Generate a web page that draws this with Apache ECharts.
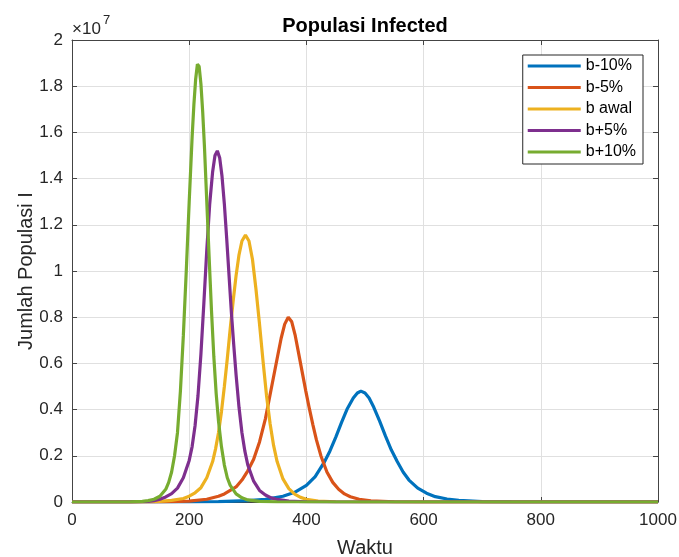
<!DOCTYPE html>
<html>
<head>
<meta charset="utf-8">
<script src="https://cdn.jsdelivr.net/npm/echarts@6/dist/echarts.min.js"></script>
<style>
html,body{margin:0;padding:0;background:#ffffff;}
#chart{width:679px;height:557px;}
</style>
</head>
<body>
<div id="chart"></div>
<script>
// ---- Data (time, value in millions) ----
const seriesNames = ['b-10%', 'b-5%', 'b awal', 'b+5%', 'b+10%'];
const xTickValues = [0, 200, 400, 600, 800, 1000];
const yTickLabels = ['0', '0.2', '0.4', '0.6', '0.8', '1', '1.2', '1.4', '1.6', '1.8', '2'];

const bMinus10 = [[0,0],[200,0.005],[250,0.02],[300,0.06],[330,0.12],[360,0.25],[380,0.42],[400,0.72],[415,1.1],[430,1.7],[440,2.2],[450,2.8],[460,3.45],[470,4.05],[480,4.5],[487,4.72],[493,4.8],[500,4.72],[507,4.5],[515,4.1],[525,3.5],[535,2.85],[545,2.25],[555,1.75],[565,1.3],[575,0.95],[590,0.6],[605,0.38],[620,0.23],[640,0.13],[660,0.07],[700,0.02],[750,0.005],[800,0.001],[1000,0]];

const bMinus5 = [[0,0],[150,0.005],[200,0.04],[230,0.12],[250,0.25],[260,0.35],[270,0.5],[280,0.65],[290,0.95],[300,1.35],[310,1.85],[320,2.6],[330,3.6],[340,4.9],[350,6.2],[357,7.1],[363,7.7],[369,8.0],[375,7.8],[381,7.2],[387,6.4],[393,5.6],[399,4.8],[405,4.05],[411,3.35],[417,2.7],[425,1.98],[435,1.3],[445,0.85],[455,0.55],[465,0.35],[475,0.23],[490,0.12],[510,0.05],[550,0.01],[600,0.001],[1000,0]];

const bAwal = [[0,0],[100,0.005],[150,0.03],[170,0.07],[190,0.15],[200,0.25],[210,0.4],[220,0.62],[230,1.05],[240,1.75],[245,2.3],[250,3.0],[255,3.9],[260,5.0],[265,6.2],[270,7.5],[275,8.7],[280,9.8],[285,10.7],[290,11.3],[296,11.56],[302,11.3],[308,10.5],[314,9.2],[320,7.7],[326,6.1],[332,4.6],[338,3.4],[344,2.45],[350,1.75],[360,1.0],[370,0.58],[380,0.34],[390,0.2],[400,0.12],[420,0.04],[450,0.01],[500,0.001],[1000,0]];

const bPlus5 = [[0,0],[100,0.005],[130,0.03],[140,0.06],[150,0.12],[160,0.22],[170,0.36],[180,0.6],[190,1.05],[200,1.8],[205,2.4],[210,3.3],[215,4.6],[220,6.4],[225,8.6],[230,10.9],[235,12.9],[240,14.3],[244,15.0],[248,15.2],[252,14.9],[256,14.1],[260,12.9],[264,11.4],[268,9.8],[272,8.2],[276,6.8],[280,5.5],[285,4.1],[290,3.0],[295,2.2],[300,1.6],[310,0.9],[320,0.5],[330,0.3],[340,0.18],[350,0.11],[370,0.04],[400,0.01],[450,0.001],[1000,0]];

const bPlus10 = [[0,0],[100,0.005],[120,0.03],[130,0.06],[140,0.12],[150,0.25],[160,0.55],[165,0.85],[170,1.3],[175,2.0],[180,3.0],[185,4.8],[190,7.2],[195,10.0],[200,13.0],[205,15.8],[208,17.2],[211,18.3],[214,18.95],[217,18.85],[220,18.1],[223,16.9],[226,15.4],[230,13.0],[234,10.6],[238,8.3],[242,6.3],[246,4.7],[250,3.5],[255,2.4],[260,1.6],[265,1.05],[270,0.72],[280,0.35],[290,0.18],[300,0.09],[320,0.025],[350,0.005],[400,0.001],[1000,0]];

const allSeriesData = [bMinus10, bMinus5, bAwal, bPlus5, bPlus10];
const seriesColors = ['#0072BD', '#D95319', '#EDB120', '#7E2F8E', '#77AC30'];

const FONT = "'Liberation Sans', Arial, Helvetica, sans-serif";
const AXIS_COLOR = '#444444';
const TEXT_COLOR = '#262626';
const GRID_COLOR = '#e0e0e0';

const chart = echarts.init(document.getElementById('chart'), null, {renderer: 'canvas'});

const toAbs = arr => arr.map(p => [p[0], p[1] * 1e6]);

const boxAxisCommon = {
  type: 'value',
  nameMoveOverlap: false,
  axisLine: {show: true, onZero: false, lineStyle: {color: AXIS_COLOR, width: 1}},
  axisTick: {show: true, inside: true, length: 5, lineStyle: {color: AXIS_COLOR, width: 1}}
};

const option = {
  backgroundColor: '#ffffff',
  animation: false,
  title: {
    text: 'Populasi Infected',
    left: 365,
    top: 16,
    textAlign: 'center',
    padding: 0,
    textStyle: {fontFamily: FONT, fontSize: 20, fontWeight: 'bold', color: '#000000'}
  },
  graphic: [
    {type: 'text', left: 72, top: 21, style: {text: '×10', fontFamily: FONT, fontSize: 17, fill: TEXT_COLOR}},
    {type: 'text', left: 103, top: 14, style: {text: '7', fontFamily: FONT, fontSize: 13, fill: TEXT_COLOR}}
  ],
  grid: {left: 72, right: 21, top: 40, bottom: 55, containLabel: false, outerBoundsMode: 'none'},
  legend: {
    data: seriesNames,
    orient: 'vertical',
    right: 36,
    top: 55,
    icon: 'rect',
    itemWidth: 53,
    itemHeight: 3,
    itemGap: 5.5,
    padding: [3, 7, 4, 5],
    backgroundColor: '#ffffff',
    borderColor: '#262626',
    borderWidth: 1,
    borderRadius: 0,
    textStyle: {fontFamily: FONT, fontSize: 16, lineHeight: 16, color: '#000000'}
  },
  xAxis: [
    Object.assign({}, boxAxisCommon, {
      position: 'bottom', min: 0, max: 1000, interval: 200,
      axisLabel: {show: true, color: TEXT_COLOR, fontFamily: FONT, fontSize: 17, margin: 10,
        formatter: v => xTickValues.includes(v) ? String(v) : ''},
      splitLine: {show: true, lineStyle: {color: GRID_COLOR, width: 1}},
      name: 'Waktu', nameLocation: 'middle', nameGap: 36,
      nameTextStyle: {fontFamily: FONT, fontSize: 20, color: TEXT_COLOR}
    }),
    Object.assign({}, boxAxisCommon, {
      position: 'top', min: 0, max: 1000, interval: 200,
      axisLabel: {show: false}, splitLine: {show: false}
    })
  ],
  yAxis: [
    Object.assign({}, boxAxisCommon, {
      position: 'left', min: 0, max: 2e7, interval: 2e6,
      axisLabel: {show: true, color: TEXT_COLOR, fontFamily: FONT, fontSize: 17, margin: 9,
        formatter: v => yTickLabels[Math.round(v / 2e6)]},
      splitLine: {show: true, lineStyle: {color: GRID_COLOR, width: 1}},
      name: 'Jumlah Populasi I', nameLocation: 'middle', nameGap: 36,
      nameTextStyle: {fontFamily: FONT, fontSize: 20, color: TEXT_COLOR}
    }),
    Object.assign({}, boxAxisCommon, {
      position: 'right', min: 0, max: 2e7, interval: 2e6,
      axisLabel: {show: false}, splitLine: {show: false}
    })
  ],
  series: allSeriesData.map((d, i) => ({
    name: seriesNames[i],
    type: 'line',
    data: toAbs(d),
    showSymbol: false,
    symbol: 'none',
    smooth: false,
    clip: true,
    color: seriesColors[i],
    lineStyle: {color: seriesColors[i], width: 3.2},
    itemStyle: {color: seriesColors[i]},
    xAxisIndex: 0,
    yAxisIndex: 0
  }))
};

chart.setOption(option);
</script>
</body>
</html>
